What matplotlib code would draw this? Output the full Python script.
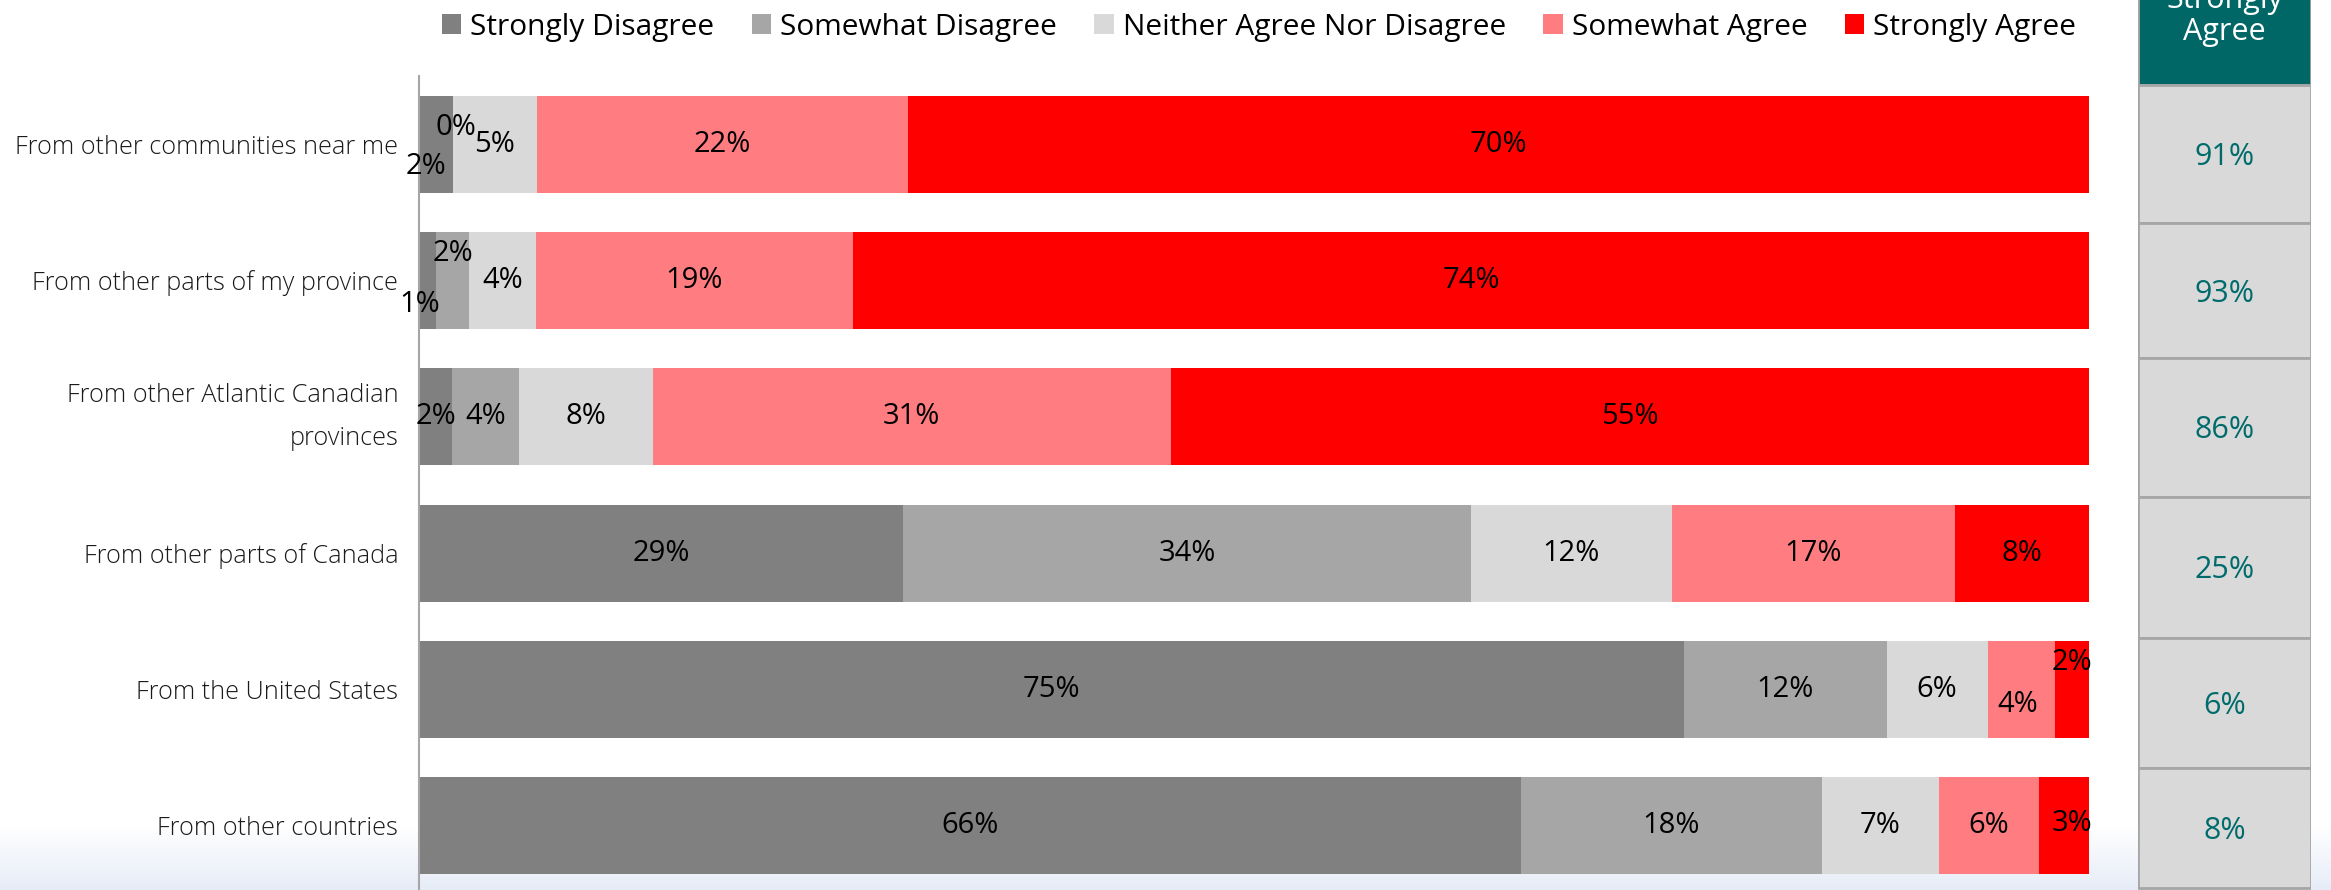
import matplotlib.pyplot as plt
from matplotlib.patches import Rectangle
import numpy as np

plt.rcParams['font.family'] = ['Open Sans', 'DejaVu Sans']

W, H = 2331, 890

categories = ['From other communities near me',
              'From other parts of my province',
              'From other Atlantic Canadian\nprovinces',
              'From other parts of Canada',
              'From the United States',
              'From other countries']
series = ['Strongly Disagree', 'Somewhat Disagree', 'Neither Agree Nor Disagree',
          'Somewhat Agree', 'Strongly Agree']
strongly_disagree = [2, 1, 2, 29, 75, 66]
somewhat_disagree = [0, 2, 4, 34, 12, 18]
neither = [5, 4, 8, 12, 6, 7]
somewhat_agree = [22, 19, 31, 17, 4, 6]
strongly_agree = [70, 74, 55, 8, 2, 3]
top2 = [91, 93, 86, 25, 6, 8]
panel_title = 'Strongly\nAgree'

colors = ['#808080', '#A6A6A6', '#D9D9D9', '#FF7C80', '#FF0000']
teal = '#006666'

# hand-moved labels (row, series) -> pixel offset
offsets = {(0, 0): (-10, -22), (0, 1): (3, 17),
           (1, 0): (-8, -24), (1, 1): (1, 27),
           (4, 3): (-4, -15), (4, 4): (0, 27),
           (5, 4): (8, 2)}

fig = plt.figure(figsize=(W/100, H/100), dpi=100)

# slide background fading to light blue at the bottom
bg = fig.add_axes([0, 0, 1, 1], zorder=-5)
grad = np.ones((H, 1, 3))
top_c = np.array([1.0, 1.0, 1.0])
bot_c = np.array([0.90, 0.925, 0.97])
for r in range(H):
    t = min(max((r - 825) / 65.0, 0), 1)
    grad[r, 0] = top_c*(1-t) + bot_c*t
bg.imshow(grad, aspect='auto', extent=[0, 1, 1, 0])
bg.set_xlim(0, 1)
bg.set_ylim(1, 0)
bg.axis('off')

row_gap = 136.3
ax_top = 76
ax = fig.add_axes([419/W, 0, 1670/W, (H-ax_top)/H])
ax.set_facecolor('none')

data = np.array([strongly_disagree, somewhat_disagree, neither, somewhat_agree, strongly_agree], dtype=float)
totals = data.sum(axis=0)
y = np.arange(len(categories))
left = np.zeros(len(categories))
for i, name in enumerate(series):
    w = data[i] / totals
    ax.barh(y, w, left=left, height=97/row_gap, color=colors[i], label=name)
    for j in range(len(categories)):
        dx, dy = offsets.get((j, i), (0, 0))
        ax.annotate('%d%%' % data[i][j], (left[j] + w[j]/2, y[j]),
                    xytext=(dx, dy), textcoords='offset pixels',
                    ha='center', va='center', fontsize=21, color='black')
    left = left + w

ax.set_xlim(0, 1)
ax.set_ylim(-0.5 + (H-ax_top)/row_gap, -0.5)
ax.set_yticks(y)
ax.set_yticklabels(categories, fontsize=18.2, fontweight='light', color='#1a1a1a',
                   linespacing=1.95)
for lab in ax.get_yticklabels():
    if '\n' in lab.get_text():
        lab.set_va('center')
ax.tick_params(axis='y', length=0, pad=15)
ax.set_xticks([])
for s in ['top', 'right', 'bottom']:
    ax.spines[s].set_visible(False)
ax.spines['left'].set_color('#A6A6A6')
ax.spines['left'].set_linewidth(1.5)

fig.legend(loc='center', bbox_to_anchor=(1259/W, 1 - 27/H), ncol=5, frameon=False,
           fontsize=21.5, handlelength=0.65, handleheight=0.65, handletextpad=0.3,
           columnspacing=1.25)

# side panel
pax = fig.add_axes([2138/W, 0, (2311-2138)/W, 1])
pax.set_xlim(0, 1)
pax.set_ylim(H, 0)
pax.axis('off')
pax.add_patch(Rectangle((0, -20), 1, 105, facecolor=teal, edgecolor='#A6A6A6', lw=2))
pax.text(0.5, 47, panel_title, ha='center', va='bottom', color='white', fontsize=22,
         linespacing=1.1)
cell_edges = [85, 223, 358, 497, 638, 768, 888]
for k in range(len(top2)):
    y0, y1 = cell_edges[k], cell_edges[k+1]
    pax.add_patch(Rectangle((0, y0), 1, y1-y0, facecolor='#D9D9D9', edgecolor='#A6A6A6', lw=2))
    pax.text(0.5, (y0+y1)/2 + 3, '%d%%' % top2[k], ha='center', va='center',
             color='#006B6B', fontsize=22)

fig.savefig('out.png', dpi=100)
